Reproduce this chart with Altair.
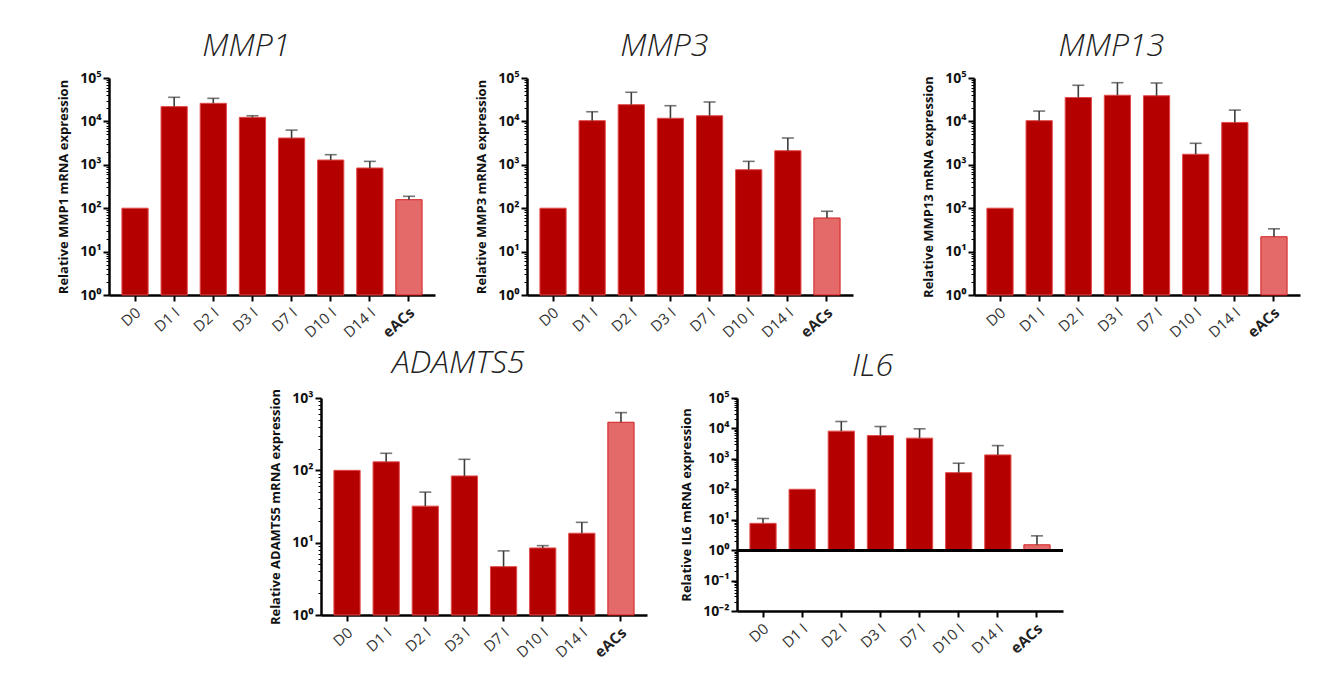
import altair as alt
import pandas as pd

cats = ["D0", "D1 I", "D2 I", "D3 I", "D7 I", "D10 I", "D14 I", "eACs"]

mmp1 = [100, 21900, 26100, 12400, 4140, 1290, 844, 157]
mmp1_up = [None, 35900, 34000, 13500, 6300, 1710, 1200, 188]

mmp3 = [100, 10400, 24300, 11800, 13500, 771, 2110, 59.5]
mmp3_up = [None, 16700, 46900, 23000, 28000, 1200, 4140, 85]

mmp13 = [100, 10400, 35500, 40000, 39000, 1750, 9460, 22]
mmp13_up = [None, 17300, 68000, 78000, 76700, 3130, 18200, 33.5]

adamts5 = [100, 131, 32, 83.6, 4.66, 8.45, 13.5, 462]
adamts5_up = [None, 172, 50, 142, 7.7, 9.1, 19.1, 628]

il6 = [7.6, 100, 8150, 5830, 4800, 352, 1350, 1.5]
il6_up = [11, None, 16900, 11550, 9700, 718, 2730, 2.95]

DARK = "#B50000"
EDGE = "#E24A4A"
LIGHT = "#E46A6A"
FONT = "Open Sans"

SUP = {-2: "⁻²", -1: "⁻¹", 0: "⁰", 1: "¹", 2: "²", 3: "³", 4: "⁴", 5: "⁵"}
EXP = "round(log(datum.value)/LN10)"
IS_MAJOR = f"abs(log(datum.value)/LN10 - {EXP}) < 0.001"


def sup_expr():
    s = "''"
    for k, v in SUP.items():
        s = f"({EXP} == {k} ? '{v}' : {s})"
    return s


LABEL_EXPR = f"({IS_MAJOR}) ? ('10' + {sup_expr()}) : ''"


def panel(gene, vals, ups, dmin, dmax, h, base_val=1):
    df = pd.DataFrame({"cat": cats, "v": vals, "up": ups})
    tick_vals = [m * 10.0 ** k for k in range(dmin, dmax) for m in range(1, 10)]
    tick_vals.append(10.0 ** dmax)

    yscale = alt.Scale(type="log", domain=[10.0 ** dmin, 10.0 ** dmax], nice=False)
    xenc = alt.X(
        "cat:N",
        sort=cats,
        scale=alt.Scale(paddingInner=0.33, paddingOuter=0.33),
        axis=alt.Axis(
            title=None,
            labels=False,
            tickSize=6,
            tickWidth=2,
            tickColor="black",
            domainColor="black",
            domainWidth=2.5,
        ),
    )
    yaxis = alt.Axis(
        title=f"Relative {gene} mRNA expression",
        titleFont=FONT,
        titleFontSize=13,
        titleFontWeight="bold",
        titleColor="#111111",
        titlePadding=9,
        values=tick_vals,
        labelExpr=LABEL_EXPR,
        labelFont=FONT,
        labelFontSize=14,
        labelFontWeight="bold",
        labelColor="#111111",
        labelOverlap=False,
        labelPadding=2,
        tickSize={"condition": {"test": IS_MAJOR, "value": 6}, "value": 3},
        tickWidth={"condition": {"test": IS_MAJOR, "value": 2}, "value": 1},
        tickColor="black",
        domainColor="black",
        domainWidth=2.5,
        grid=False,
    )
    base = alt.Chart(df)
    bars = base.mark_bar(strokeWidth=1).encode(
        x=xenc,
        y=alt.Y("v:Q", scale=yscale, axis=yaxis),
        y2=alt.datum(base_val),
        fill=alt.condition("datum.cat == 'eACs'", alt.value(LIGHT), alt.value(DARK)),
        stroke=alt.condition("datum.cat == 'eACs'", alt.value("#D42020"), alt.value(EDGE)),
    )
    errs = base.transform_filter("isValid(datum.up)")
    rule = errs.mark_rule(color="#3c3c3c", strokeWidth=1.6).encode(
        x=xenc, y=alt.Y("v:Q", scale=yscale, axis=yaxis), y2="up:Q"
    )
    cap = errs.mark_tick(orient="horizontal", size=12, thickness=1.6, color="#3c3c3c").encode(
        x=xenc, y=alt.Y("up:Q", scale=yscale, axis=yaxis)
    )
    lab_kw = dict(angle=318, align="right", baseline="top", font=FONT, fontSize=15, dx=-2)
    lab_norm = base.transform_filter("datum.cat != 'eACs'").mark_text(
        color="#333333", fontWeight="normal", **lab_kw
    ).encode(x=xenc, y=alt.value(h + 9), text="cat:N")
    lab_bold = base.transform_filter("datum.cat == 'eACs'").mark_text(
        color="#222222", fontWeight="bold", **lab_kw
    ).encode(x=xenc, y=alt.value(h + 9), text="cat:N")
    layers = [bars, rule, cap, lab_norm, lab_bold]
    if base_val != 10.0 ** dmin:
        layers.append(
            base.mark_rule(color="black", strokeWidth=2.5).encode(y=alt.datum(base_val))
        )
    return alt.layer(*layers).properties(
        width=326,
        height=h,
        title=alt.TitleParams(
            gene,
            font=FONT,
            fontStyle="italic",
            fontWeight=300,
            fontSize=32,
            color="#222222",
            offset=8,
            frame="bounds",
            anchor="middle",
        ),
    )


def spacer(w):
    return (
        alt.Chart(pd.DataFrame({"a": [0]}))
        .mark_text(text="", opacity=0)
        .encode(x=alt.value(0), y=alt.value(0))
        .properties(width=w, height=10)
    )


p1 = panel("MMP1", mmp1, mmp1_up, 0, 5, 217)
p3 = panel("MMP3", mmp3, mmp3_up, 0, 5, 217)
p13 = panel("MMP13", mmp13, mmp13_up, 0, 5, 217)
pa = panel("ADAMTS5", adamts5, adamts5_up, 0, 3, 217)
pi = panel("IL6", il6, il6_up, -2, 5, 213)

row1 = alt.hconcat(p1, spacer(40), p3, spacer(69), p13, spacing=0)
row2 = alt.hconcat(spacer(127), pa, pi, spacing=33)

chart = (
    alt.vconcat(row1, row2, spacing=6)
    .properties(
        padding={"left": 49, "top": 22, "right": 5, "bottom": 5},
        background="white",
    )
    .configure_view(stroke="transparent", strokeWidth=0)
)

chart.save("out.html", embed_options={"renderer": "svg", "actions": False})
